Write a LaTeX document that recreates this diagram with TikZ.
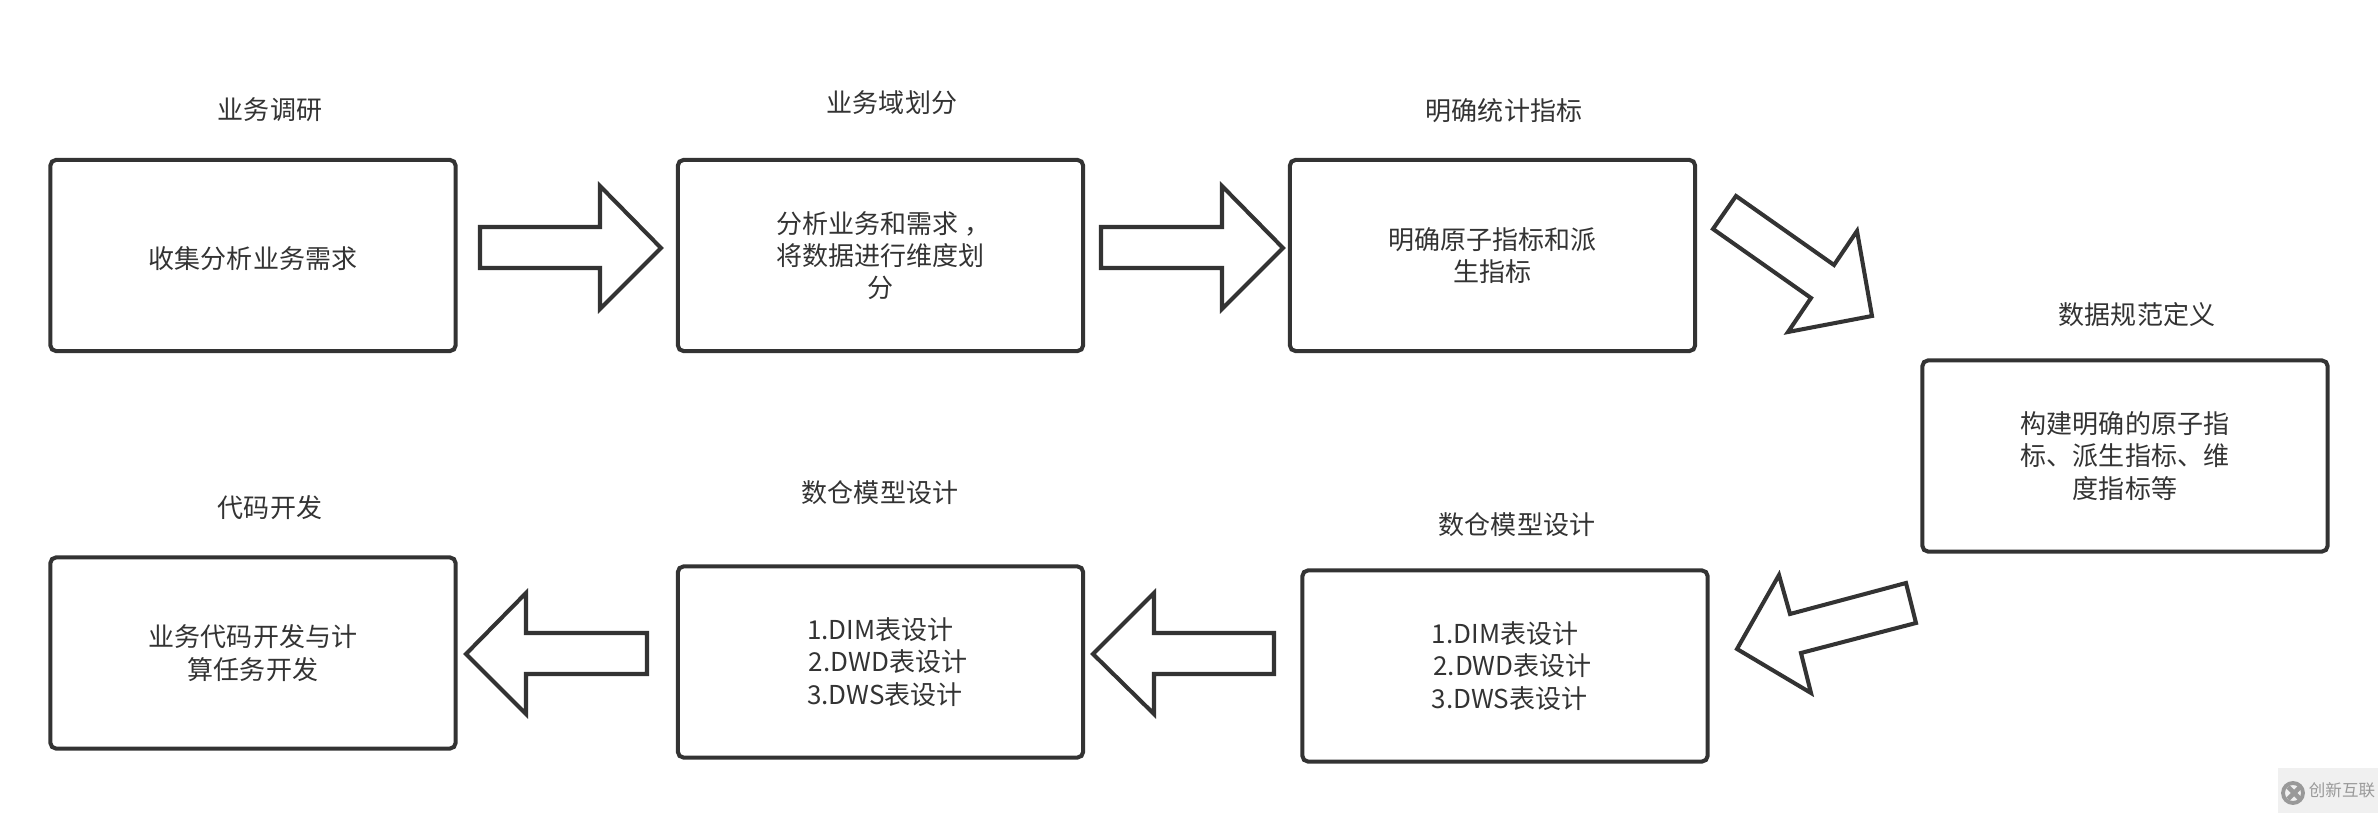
\documentclass[tikz,border=0pt]{standalone}
\usepackage{fontspec}
\setmainfont{Noto Sans CJK SC}
\usepackage{tikz}
\definecolor{inkgray}{HTML}{333333}
\tikzset{
  stepbox/.style={draw=inkgray, line width=1.15pt, rounded corners=1.6pt, outer sep=0pt,
    minimum width=4.05cm, minimum height=1.91cm, align=center, text=inkgray,
    font=\fontsize{7.4}{9.2}\selectfont, execute at begin node={\rule{0pt}{7.9pt}}},
  steptitle/.style={text=inkgray, font=\fontsize{7.4}{9.2}\selectfont},
  blockarrow/.style={draw=inkgray, line width=1.15pt, fill=white, miter limit=10}
}
\begin{document}
\begin{tikzpicture}[x=0.01cm, y=-0.01cm]
\useasboundingbox (0,0) rectangle (2378,813);
\node[stepbox] (collect) at (253,255.5) {收集分析业务需求};
\node[stepbox] (domain) at (880.5,255.5) {分析业务和需求\hspace*{0.06cm}，\hspace*{-0.06cm}\\将数据进行维度划\\分};
\node[stepbox] (metric) at (1492.5,255.5) {明确原子指标和派\\生指标};
\node[stepbox] (norm) at (2125,456) {构建明确的原子指\\标、派生指标、维\\度指标等};
\node[stepbox] (modelb) at (1505,666) {1.DIM表设计\\\hspace*{0.15cm}2.DWD表设计\\\hspace*{0.09cm}3.DWS表设计};
\node[stepbox] (modela) at (880.5,662) {1.DIM表设计\\\hspace*{0.15cm}2.DWD表设计\\\hspace*{0.09cm}3.DWS表设计};
\node[stepbox] (code) at (253,653) {业务代码开发与计\\算任务开发};
\node[steptitle] (collecttitle) at (270,110) {业务调研};
\node[steptitle] (domaintitle) at (892,103) {业务域划分};
\node[steptitle] (metrictitle) at (1504,111) {明确统计指标};
\node[steptitle] (normtitle) at (2137,315) {数据规范定义};
\node[steptitle] (modelbtitle) at (1517,525) {数仓模型设计};
\node[steptitle] (modelatitle) at (880,493) {数仓模型设计};
\node[steptitle] (codetitle) at (270,508) {代码开发};
\draw[blockarrow] (480,227)--(600,227)--(600,186)--(661,248)--(600,309)--(600,268)--(480,268)--cycle;
\draw[blockarrow] (1101,227)--(1222,227)--(1222,186)--(1283,248)--(1222,309)--(1222,268)--(1101,268)--cycle;
\draw[blockarrow] (1736,196)--(1834,265)--(1857,231)--(1872,316)--(1788,332)--(1811,298)--(1713,229)--cycle;
\draw[blockarrow] (1906,583)--(1790,614)--(1779,575)--(1737,649)--(1811,693)--(1801,653)--(1916,623)--cycle;
\draw[blockarrow] (1274,633)--(1154,633)--(1154,593)--(1093,654)--(1154,714)--(1154,674)--(1274,674)--cycle;
\draw[blockarrow] (647,633)--(526,633)--(526,593)--(466,654)--(526,714)--(526,674)--(647,674)--cycle;
% watermark
\fill[black!6] (2278,768) rectangle (2378,813);
\draw[black!40, line width=1.1pt] (2293,793) circle (10);
\draw[black!40, line width=1.3pt] (2288,787)--(2300,799) (2300,787)--(2288,799);
\node[text=black!40, font=\fontsize{4.7}{5}\selectfont] (mark) at (2342,790) {创新互联};
\end{tikzpicture}
\end{document}
